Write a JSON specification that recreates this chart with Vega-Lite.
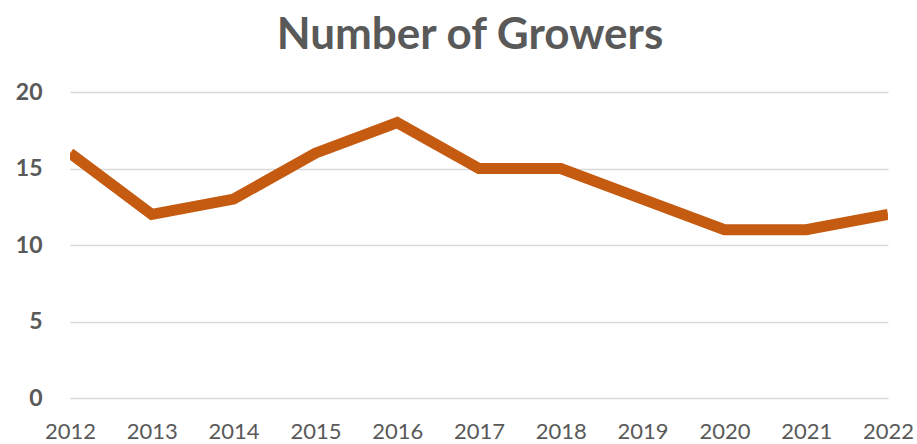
{
  "$schema": "https://vega.github.io/schema/vega-lite/v6.json",
  "width": 818,
  "height": 306,
  "autosize": {"type": "none"},
  "padding": {"left": 70, "top": 92, "right": 29, "bottom": 46},
  "background": "white",
  "title": {
    "text": "Number of Growers",
    "font": "Lato",
    "fontSize": 44,
    "fontWeight": "bold",
    "color": "#595959",
    "anchor": "middle",
    "offset": 23,
    "dx": -9
  },
  "data": {
    "values": [
      {"year": "2012", "growers": 16},
      {"year": "2013", "growers": 12},
      {"year": "2014", "growers": 13},
      {"year": "2015", "growers": 16},
      {"year": "2016", "growers": 18},
      {"year": "2017", "growers": 15},
      {"year": "2018", "growers": 15},
      {"year": "2019", "growers": 13},
      {"year": "2020", "growers": 11},
      {"year": "2021", "growers": 11},
      {"year": "2022", "growers": 12}
    ]
  },
  "mark": {"type": "line", "color": "#C55A11", "strokeWidth": 11, "strokeCap": "butt", "strokeJoin": "miter", "clip": true},
  "encoding": {
    "x": {
      "field": "year",
      "type": "ordinal",
      "scale": {"type": "point", "padding": 0},
      "axis": {
        "title": null,
        "domain": false,
        "ticks": false,
        "grid": false,
        "labelAngle": 0,
        "labelFont": "Lato",
        "labelFontSize": 22,
        "labelColor": "#595959",
        "labelPadding": 23
      }
    },
    "y": {
      "field": "growers",
      "type": "quantitative",
      "scale": {"domain": [0, 20], "nice": false},
      "axis": {
        "title": null,
        "values": [0, 5, 10, 15, 20],
        "domain": false,
        "ticks": false,
        "grid": true,
        "gridColor": "#D9D9D9",
        "gridWidth": 1.5,
        "labelFont": "Lato",
        "labelFontSize": 23,
        "labelFontWeight": "bold",
        "labelColor": "#595959",
        "labelPadding": 28
      }
    }
  },
  "config": {"view": {"stroke": null}}
}
